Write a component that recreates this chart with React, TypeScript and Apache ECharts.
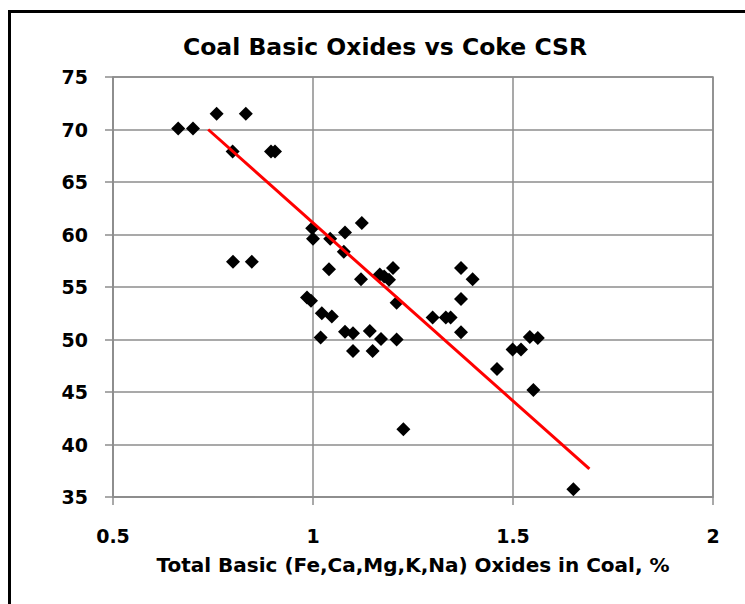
import React, { useEffect, useRef } from "react";
import * as echarts from "echarts";

const titleText = "Coal Basic Oxides vs Coke CSR";
const xAxisTitle = "Total Basic (Fe,Ca,Mg,K,Na) Oxides in Coal, %";

const oxides = [
  0.663, 0.70, 0.759, 0.832, 0.799, 0.895, 0.905, 0.80, 0.847, 0.998,
  1.0, 1.043, 1.08, 1.122, 1.077, 1.04, 1.12, 1.167, 1.20, 1.19,
  1.178, 1.209, 0.985, 0.995, 1.022, 1.047, 1.08, 1.10, 1.142, 1.019,
  1.17, 1.209, 1.10, 1.149, 1.37, 1.399, 1.37, 1.299, 1.332, 1.344,
  1.37, 1.226, 1.46, 1.499, 1.52, 1.542, 1.562, 1.551, 1.651,
];
const csr = [
  70.1, 70.1, 71.5, 71.5, 67.9, 67.9, 67.9, 57.4, 57.4, 60.6,
  59.6, 59.6, 60.2, 61.1, 58.35, 56.7, 55.75, 56.2, 56.8, 55.7,
  56.0, 53.5, 54.0, 53.7, 52.5, 52.2, 50.75, 50.6, 50.8, 50.2,
  50.05, 50.0, 48.9, 48.9, 56.8, 55.75, 53.85, 52.1, 52.1, 52.1,
  50.7, 41.45, 47.2, 49.05, 49.05, 50.25, 50.15, 45.2, 35.75,
];

const trendX = [0.738, 1.691];
const trendY = [70.0, 37.67];

const xTicks = [0.5, 1, 1.5, 2];
const yTicks = [35, 40, 45, 50, 55, 60, 65, 70, 75];

const FONT = "DejaVu Sans";

export default function App() {
  const ref = useRef<HTMLDivElement>(null);
  useEffect(() => {
    if (!ref.current) return;
    const chart = echarts.init(ref.current, null, { renderer: "svg" });
    const gridColor = "#8c8c8c";
    chart.setOption({
      animation: false,
      backgroundColor: "#ffffff",
      title: {
        text: titleText,
        left: 380,
        top: 30,
        textAlign: "center",
        textStyle: { fontFamily: FONT, fontWeight: "bold", fontSize: 23.5, color: "#000" },
      },
      grid: { left: 113, top: 77, width: 600, height: 420, show: true, borderColor: gridColor, borderWidth: 1.5 },
      xAxis: {
        type: "value",
        min: xTicks[0],
        max: xTicks[xTicks.length - 1],
        interval: 0.5,
        name: xAxisTitle,
        nameLocation: "middle",
        nameGap: 58,
        nameTextStyle: { fontFamily: FONT, fontWeight: "bold", fontSize: 20, color: "#000" },
        axisLine: { show: true, lineStyle: { color: gridColor, width: 1.5 } },
        axisTick: { show: true, length: 8, lineStyle: { color: gridColor, width: 1.5 } },
        splitLine: { show: true, lineStyle: { color: gridColor, width: 1.5 } },
        axisLabel: {
          margin: 29,
          fontFamily: FONT,
          fontWeight: "bold",
          fontSize: 19,
          color: "#000",
          formatter: (v: number) => String(v),
        },
      },
      yAxis: {
        type: "value",
        min: yTicks[0],
        max: yTicks[yTicks.length - 1],
        interval: 5,
        axisLine: { show: true, lineStyle: { color: gridColor, width: 1.5 } },
        axisTick: { show: true, length: 8, lineStyle: { color: gridColor, width: 1.5 } },
        splitLine: { show: true, lineStyle: { color: gridColor, width: 1.5 } },
        axisLabel: {
          margin: 25,
          fontFamily: FONT,
          fontWeight: "bold",
          fontSize: 19,
          color: "#000",
        },
      },
      series: [
        {
          type: "scatter",
          symbol: "diamond",
          symbolSize: 14,
          itemStyle: { color: "#000", opacity: 1 },
          data: oxides.map((x, i) => [x, csr[i]]),
          z: 3,
        },
        {
          type: "line",
          data: trendX.map((x, i) => [x, trendY[i]]),
          symbol: "none",
          lineStyle: { color: "#ff0000", width: 3 },
          z: 4,
        },
      ],
      graphic: [
        {
          type: "rect",
          shape: { x: 9.5, y: 11.5, width: 760, height: 620 },
          style: { fill: "none", stroke: "#000", lineWidth: 3 },
          silent: true,
        },
      ],
    });
    return () => chart.dispose();
  }, []);
  return (
    <div
      ref={ref}
      style={{ position: "fixed", left: 0, top: 0, width: 745, height: 604 }}
    />
  );
}
